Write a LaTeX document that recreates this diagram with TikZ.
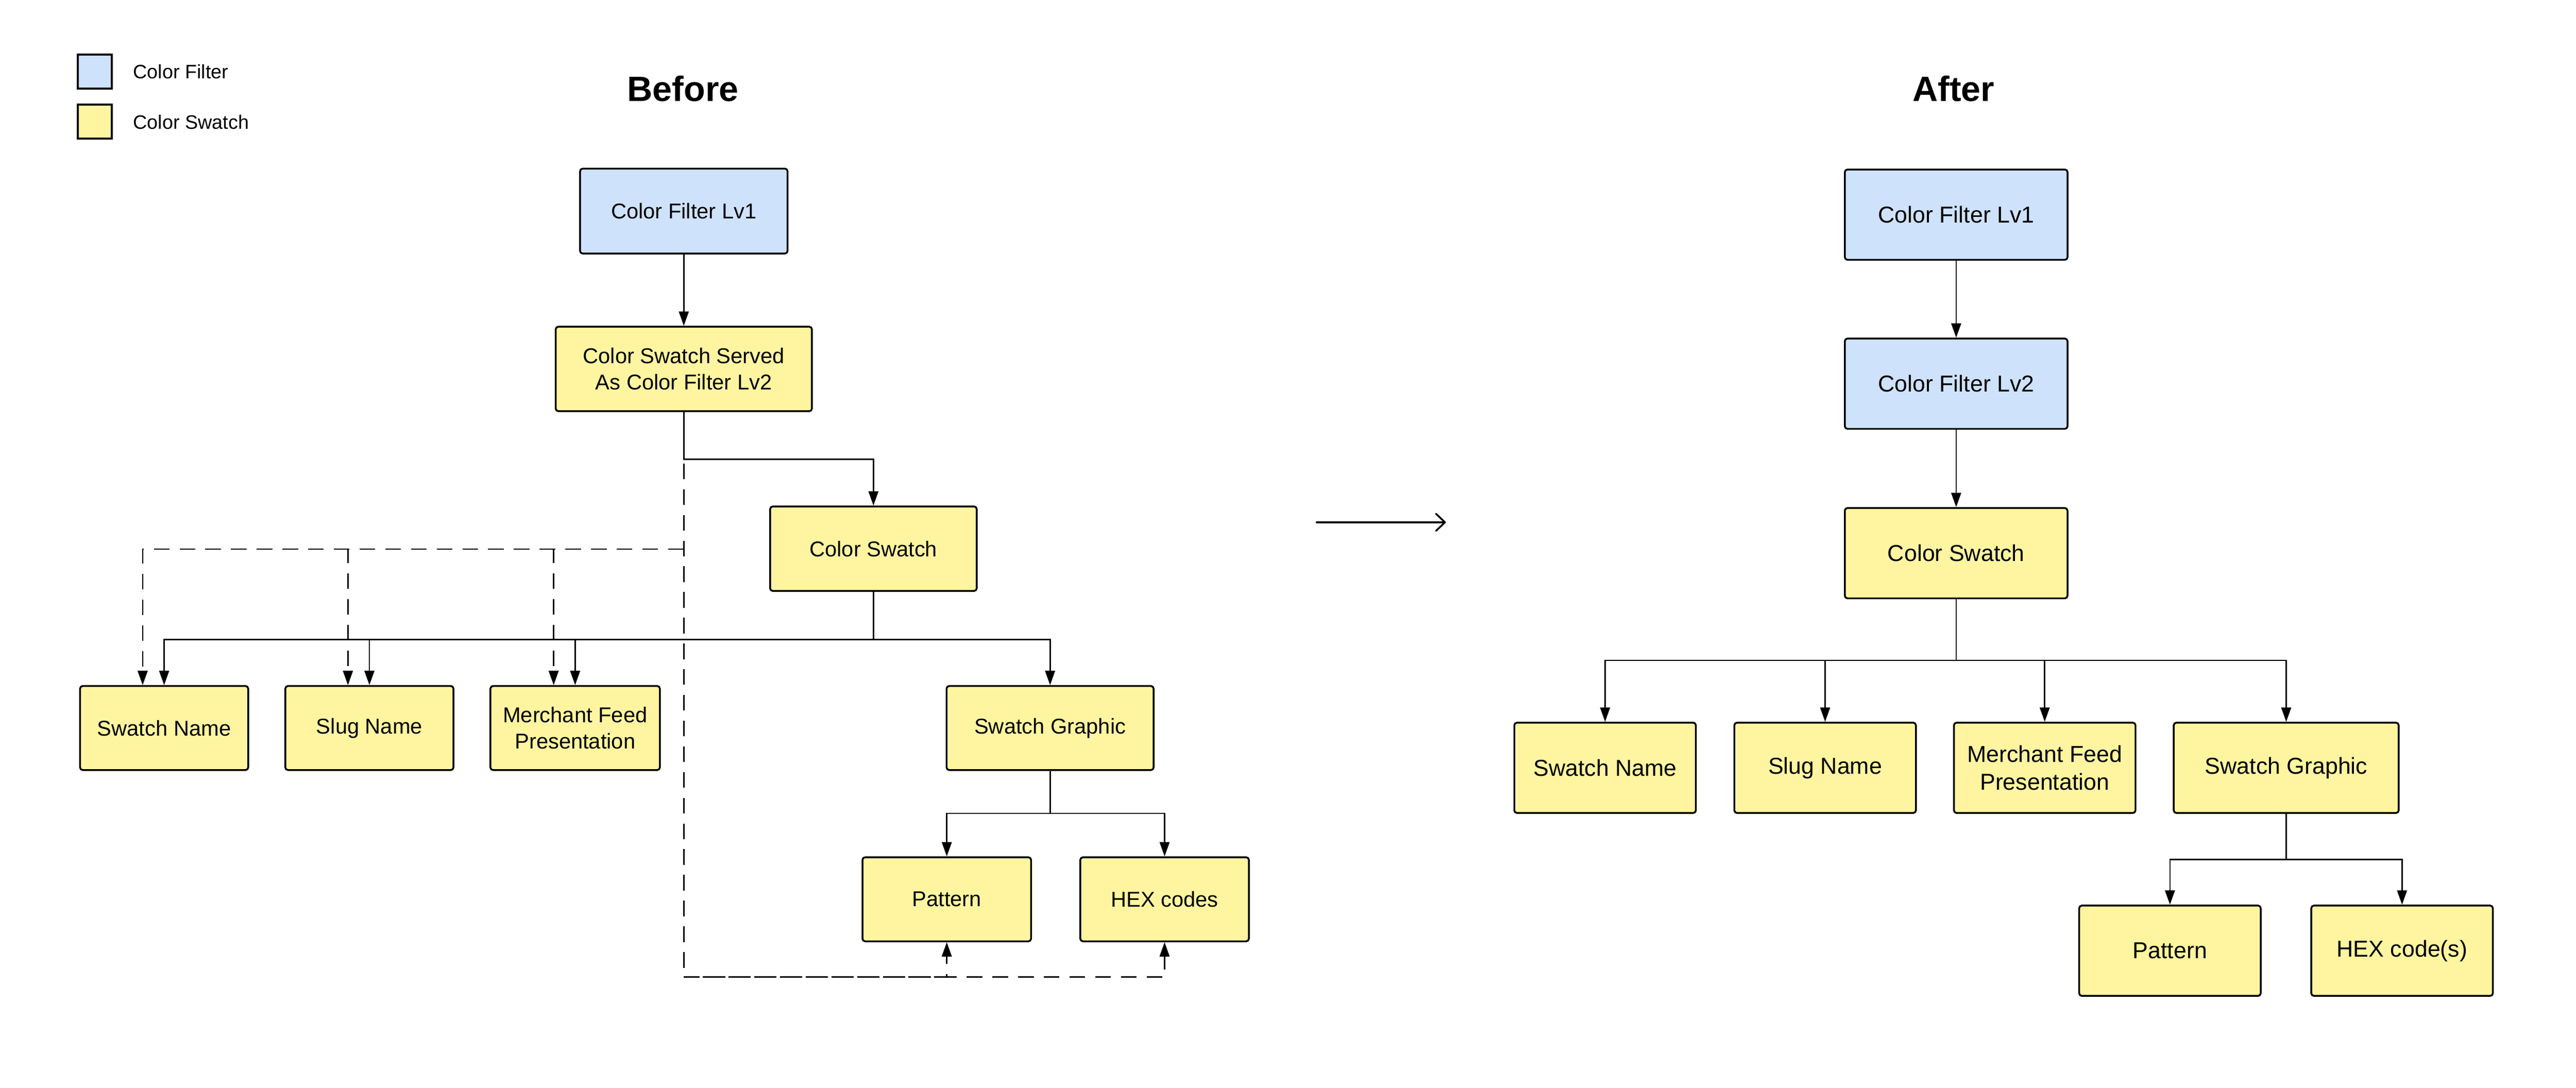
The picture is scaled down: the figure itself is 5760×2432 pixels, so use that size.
\documentclass[tikz,border=0pt]{standalone}
\usepackage{fontspec}
\setmainfont{Liberation Sans}
\usetikzlibrary{arrows.meta}
\definecolor{blueF}{HTML}{CFE2FB}
\definecolor{yellowS}{HTML}{FFF5A0}
\newcommand{\fsBefore}{\fontsize{9.6}{11.6}\selectfont}
\newcommand{\fsAfter}{\fontsize{10.3}{12.3}\selectfont}
\newcommand{\fsLeg}{\fontsize{8.7}{10.4}\selectfont}
\newcommand{\fsTitle}{\fontsize{15.7}{18}\selectfont\bfseries}
\tikzset{
  box/.style={draw=black, line width=0.8pt, rounded corners=1.2pt, align=center, inner sep=0pt, text=black},
  wh/.style 2 args={minimum width=#1*0.2pt, minimum height=#2*0.2pt},
  bluebox/.style={box, fill=blueF},
  yelbox/.style={box, fill=yellowS},
  bfont/.style={font=\fsBefore},
  afont/.style={font=\fsAfter},
  ln/.style={line width=0.6pt, line join=miter},
  conn/.style={ln, -{Triangle[length=6.4pt,width=4.4pt]}},
  dsh/.style={conn, dash pattern=on 7pt off 4.5pt},
  dshline/.style={ln, dash pattern=on 7pt off 4.5pt},
  legsq/.style={draw=black, line width=0.8pt, minimum width=15.2pt, minimum height=15.2pt, inner sep=0pt},
  legtxt/.style={font=\fsLeg, anchor=west, inner sep=0pt},
  ttl/.style={font=\fsTitle, inner sep=0pt}
}
\begin{document}
\begin{tikzpicture}[x=0.2pt, y=-0.2pt]
\fill[white] (0,0) rectangle (5760,2432);
\useasboundingbox (0,0) rectangle (5760,2432);

% legend
\node[legsq, fill=blueF] (legB) at (212,160) {};
\node[legsq, fill=yellowS] (legY) at (212,272) {};
\node[legtxt] (legBt) at (297,160) {Color Filter};
\node[legtxt] (legYt) at (297,273) {Color Swatch};

% titles
\node[ttl] (tBefore) at (1527,198) {Before};
\node[ttl] (tAfter) at (4368,198) {After};

% ---------------- Before ----------------
\node[bluebox, bfont, wh={464}{190}] (bLv1) at (1529,472) {Color Filter Lv1};
\node[yelbox, bfont, wh={573}{189}] (bServed) at (1529,825) {Color Swatch Served\\As Color Filter Lv2};
\node[yelbox, bfont, wh={462}{189}] (bCS) at (1953,1227) {Color Swatch};
\node[yelbox, bfont, wh={376}{188}] (bSN) at (367,1628) {Swatch Name};
\node[yelbox, bfont, wh={376}{188}] (bSlug) at (826,1628) {Slug Name};
\node[yelbox, bfont, wh={379}{188}] (bMF) at (1286,1628) {Merchant Feed\\Presentation};
\node[yelbox, bfont, wh={463}{188}] (bSG) at (2348,1628) {Swatch Graphic};
\node[yelbox, bfont, wh={377}{188}] (bPat) at (2117,2011) {Pattern};
\node[yelbox, bfont, wh={377}{188}] (bHex) at (2604,2011) {HEX codes};

\coordinate (bj1) at (1529,1027);
\coordinate (bbus) at (0,1430);
\coordinate (bbus2) at (0,1819);
\coordinate (dj) at (1529,1228);
\coordinate (dbot) at (1529,2185);

\draw[conn] (bLv1) -- (bServed);
\draw[conn] (bServed.south) -- (bj1) -| (bCS.north);
\foreach \n in {bSN,bSlug,bMF,bSG}
  \draw[conn] (bCS.south) -- (bCS.south |- bbus) -| (\n.north);
\foreach \n in {bPat,bHex}
  \draw[conn] (bSG.south) -- (bSG.south |- bbus2) -| (\n.north);

% dashed connectors
\draw[dshline] (bServed.south) -- (dbot);
\draw[dsh, dash phase=3pt] (dbot) -| (bPat.south);
\draw[dsh] (dbot) -| (bHex.south);
\foreach \n in {bSN,bSlug,bMF}
  \draw[dsh] (dj) -| ([xshift=-9.6pt]\n.north);

% middle arrow
\coordinate (arrS) at (2944,1168);
\coordinate (arrE) at (3233,1168);
\draw[line width=0.8pt, line cap=round, -{Straight Barb[length=4pt,width=7.6pt,line cap=round,line join=round]}] (arrS) -- (arrE);

% ---------------- After ----------------
\node[bluebox, afont, wh={498}{202}] (aLv1) at (4374,480) {Color Filter Lv1};
\node[bluebox, afont, wh={498}{202}] (aLv2) at (4374,858) {Color Filter Lv2};
\node[yelbox, afont, wh={498}{202}] (aCS) at (4374,1237) {Color Swatch};
\node[yelbox, afont, wh={406}{202}] (aSN) at (3589,1717) {Swatch Name};
\node[yelbox, afont, wh={406}{202}] (aSlug) at (4081,1717) {Slug Name};
\node[yelbox, afont, wh={406}{202}] (aMF) at (4572,1717) {Merchant Feed\\Presentation};
\node[yelbox, afont, wh={503}{202}] (aSG) at (5112,1717) {Swatch Graphic};
\node[yelbox, afont, wh={406}{202}] (aPat) at (4852,2126) {Pattern};
\node[yelbox, afont, wh={406}{202}] (aHex) at (5371,2126) {HEX code(s)};

\coordinate (abus) at (0,1477);
\coordinate (abus2) at (0,1922);

\draw[conn] (aLv1) -- (aLv2);
\draw[conn] (aLv2) -- (aCS);
\foreach \n in {aSN,aSlug,aMF,aSG}
  \draw[conn] (aCS.south) -- (aCS.south |- abus) -| (\n.north);
\foreach \n in {aPat,aHex}
  \draw[conn] (aSG.south) -- (aSG.south |- abus2) -| (\n.north);
\end{tikzpicture}
\end{document}
